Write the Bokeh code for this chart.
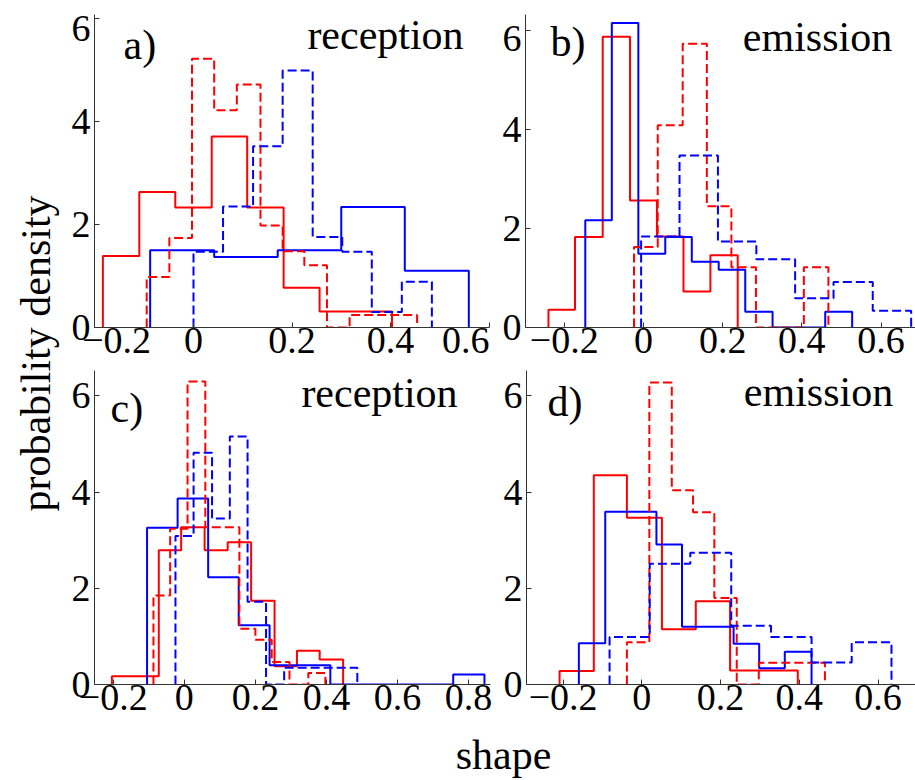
import math
from bokeh.plotting import figure
from bokeh.models import Range1d, FixedTicker, CustomJSTickFormatter, Label
from bokeh.layouts import row, column
from bokeh.embed import file_html
from bokeh.resources import INLINE

FONT = "Liberation Serif"
RED = "#ff0000"
BLUE = "#0000ff"
AXIS = "#333333"

# ---------------- data (bin edges and densities) ----------------
Y_TICKS = [0, 2, 4, 6]
# in panels a and b the top y label is pulled down inside the plot range (label anchors)
Y_LABEL_POS_A = [0, 2, 4, 5.81]
Y_LABEL_POS_B = [0, 2, 4, 5.85]
X_TICKS_A = [-0.2, 0, 0.2, 0.4, 0.6]
# in panel a the two end labels are pulled inside the plot range (label anchors)
X_LABEL_POS_A = [-0.156, 0, 0.2, 0.4, 0.553]
X_TICKS_B = [-0.2, 0, 0.2, 0.4, 0.6]
X_TICKS_C = [-0.2, 0, 0.2, 0.4, 0.6, 0.8]
X_TICKS_D = [-0.2, 0, 0.2, 0.4, 0.6]

# panel a) reception
A_RS_EDGES = [-0.184, -0.110, -0.037, 0.037, 0.109, 0.183, 0.256, 0.330, 0.403]
A_RS_H = [1.39, 2.63, 2.33, 3.71, 2.33, 0.77, 0.31, 0.31]
A_BS_EDGES = [-0.088, 0.042, 0.171, 0.300, 0.429, 0.559]
A_BS_H = [1.50, 1.37, 1.50, 2.34, 1.10]
A_RD_EDGES = [-0.095, -0.049, -0.003, 0.042, 0.088, 0.136, 0.181, 0.225, 0.271, 0.317, 0.363, 0.408, 0.454]
A_RD_H = [0.98, 1.74, 5.22, 4.22, 4.72, 1.98, 1.48, 1.21, 0.0, 0.245, 0.245, 0.245]
A_BD_EDGES = [0.0, 0.060, 0.121, 0.181, 0.242, 0.302, 0.362, 0.423, 0.484]
A_BD_H = [1.47, 2.35, 3.52, 4.99, 1.76, 1.47, 0.30, 0.89]

# panel b) emission
B_RS_EDGES = [-0.240, -0.173, -0.103, -0.034, 0.034, 0.101, 0.169, 0.238]
B_RS_H = [0.36, 1.83, 5.88, 2.57, 1.84, 0.73, 1.46]
B_BS_EDGES = [-0.147, -0.080, -0.013, 0.055, 0.122, 0.190, 0.257, 0.326, 0.393, 0.459, 0.527]
B_BS_H = [2.17, 6.16, 1.49, 1.83, 1.33, 1.17, 0.32, 0.0, 0.0, 0.32]
B_RD_EDGES = [-0.024, 0.036, 0.099, 0.160, 0.222, 0.284, 0.345, 0.405, 0.467]
B_RD_H = [1.63, 4.09, 5.74, 2.45, 1.22, 0.0, 0.0, 1.22]
B_BD_EDGES = [-0.006, 0.091, 0.188, 0.285, 0.383, 0.480, 0.579, 0.676]
B_BD_H = [1.84, 3.48, 1.74, 1.38, 0.59, 0.92, 0.34]

# panel c) reception
C_RS_EDGES = [-0.204, -0.138, -0.072, -0.009, 0.057, 0.122, 0.188, 0.254, 0.317, 0.381, 0.447]
C_RS_H = [0.17, 0.17, 2.79, 3.27, 2.79, 2.96, 1.74, 0.38, 0.70, 0.52]
C_BS_EDGES = [-0.105, -0.019, 0.067, 0.153, 0.240, 0.326, 0.411, 0.498, 0.584, 0.670, 0.757, 0.845]
C_BS_H = [3.26, 3.87, 2.23, 1.23, 0.40, 0.40, 0.0, 0.0, 0.0, 0.0, 0.21]
C_RD_EDGES = [-0.087, -0.040, 0.009, 0.059, 0.107, 0.155, 0.200, 0.246, 0.296, 0.349, 0.397]
C_RD_H = [1.85, 3.24, 6.30, 3.27, 3.27, 1.16, 0.93, 0.47, 0.0, 0.24]
C_BD_EDGES = [-0.025, 0.026, 0.078, 0.128, 0.178, 0.230, 0.281, 0.332, 0.383, 0.434, 0.487]
C_BD_H = [3.09, 4.82, 3.45, 5.16, 1.72, 0.0, 0.35, 0.35, 0.35, 0.35]

# panel d) emission
D_RS_EDGES = [-0.209, -0.122, -0.038, 0.051, 0.137, 0.224, 0.310, 0.396]
D_RS_H = [0.28, 4.35, 3.47, 1.15, 1.73, 0.29, 0.29]
D_BS_EDGES = [-0.160, -0.093, -0.028, 0.037, 0.102, 0.167, 0.233, 0.298, 0.363, 0.431]
D_BS_H = [0.86, 3.59, 3.59, 2.91, 1.20, 1.20, 0.85, 0.34, 0.68]
D_RD_EDGES = [-0.038, 0.019, 0.076, 0.130, 0.184, 0.241, 0.297, 0.353, 0.409, 0.465]
D_RD_H = [0.88, 6.28, 4.04, 3.58, 1.80, 0.0, 0.45, 0.45, 0.45]
D_BD_EDGES = [-0.082, 0.020, 0.123, 0.227, 0.328, 0.431, 0.533, 0.634]
D_BD_H = [0.99, 2.51, 2.74, 1.22, 0.99, 0.46, 0.88]

PANEL_TAGS = ["a)", "b)", "c)", "d)"]
PANEL_TITLES = ["reception", "emission", "reception", "emission"]
Y_LABEL = "probability density"
X_LABEL = "shape"

# ---------------- helpers ----------------
FMT_CODE = """
if (Math.abs(tick) < 1e-9) { return "0"; }
const s = Math.abs(tick).toFixed(1);
return (tick < 0 ? "\\u2212" : "") + s;
"""
FMT_CODE_A = """
if (tick < -0.1) { return "\\u22120.2"; }
if (tick > 0.5) { return "0.6"; }
if (Math.abs(tick) < 1e-9) { return "0"; }
const s = Math.abs(tick).toFixed(1);
return (tick < 0 ? "\\u2212" : "") + s;
"""
FMT_Y = """
return (2 * Math.round(tick / 2)).toFixed(0);
"""

TICK_FONT_SIZE = "38px"
TEXT_FONT_SIZE = "42px"


def outline(edges, heights):
    xs = [edges[0]]
    ys = [0.0]
    for i, h in enumerate(heights):
        xs += [edges[i], edges[i + 1]]
        ys += [h, h]
    xs.append(edges[-1])
    ys.append(0.0)
    return xs, ys


def make_panel(width, height, bl, br, bt, bb, xr, yr, xticks,
               fmt, xlabel_pos=None, ylabel_pos=None):
    p = figure(width=width, height=height, x_range=Range1d(*xr), y_range=Range1d(*yr),
               output_backend="svg", toolbar_location=None,
               min_border_left=bl, min_border_right=br, min_border_top=bt, min_border_bottom=bb)
    p.outline_line_color = None
    p.xgrid.visible = False
    p.ygrid.visible = False
    p.background_fill_color = "white"
    p.border_fill_color = "white"
    for ax in (p.xaxis[0], p.yaxis[0]):
        ax.axis_line_color = AXIS
        ax.axis_line_width = 1
        ax.major_tick_line_color = AXIS
        ax.minor_tick_line_color = AXIS
        ax.major_tick_in = 5
        ax.major_tick_out = 0
        ax.minor_tick_in = 0
        ax.minor_tick_out = 0
        ax.major_label_text_font = FONT
        ax.major_label_text_font_size = TICK_FONT_SIZE
        ax.major_label_text_color = "black"
    if xlabel_pos is None:
        p.xaxis[0].ticker = FixedTicker(ticks=xticks)
    else:
        # labels sit at xlabel_pos; the tick marks themselves are drawn at xticks
        p.xaxis[0].ticker = FixedTicker(ticks=xlabel_pos, minor_ticks=xticks)
        p.xaxis[0].major_tick_in = 0
        p.xaxis[0].minor_tick_in = 5
    if ylabel_pos is None:
        p.yaxis[0].ticker = FixedTicker(ticks=Y_TICKS)
    else:
        p.yaxis[0].ticker = FixedTicker(ticks=ylabel_pos, minor_ticks=Y_TICKS)
        p.yaxis[0].major_tick_in = 0
        p.yaxis[0].minor_tick_in = 5
    p.xaxis[0].formatter = CustomJSTickFormatter(code=fmt)
    p.yaxis[0].formatter = CustomJSTickFormatter(code=FMT_Y)
    p.xaxis[0].major_label_standoff = 0
    p.yaxis[0].major_label_standoff = 4
    return p


def draw_hist(p, edges, heights, color, dashed):
    xs, ys = outline(edges, heights)
    if dashed:
        p.line(xs, ys, line_color=color, line_width=2, line_dash="9 4")
    else:
        p.line(xs, ys, line_color=color, line_width=2)


# the rendered alphabetic baseline sits lower than the anchor; compensate
BASE_FIX = 16


def add_texts(p, tag, tx, ty, title, cx, cy):
    p.add_layout(Label(x=tx, y=ty + BASE_FIX, x_units="screen", y_units="screen", text=tag,
                       text_font=FONT, text_font_size=TEXT_FONT_SIZE, text_align="left",
                       text_baseline="alphabetic", text_color="black"))
    p.add_layout(Label(x=cx, y=cy + BASE_FIX, x_units="screen", y_units="screen", text=title,
                       text_font=FONT, text_font_size=TEXT_FONT_SIZE, text_align="center",
                       text_baseline="alphabetic", text_color="black"))


# ---------------- panels ----------------
# row 1: canvas y 0..370 ; row 2: canvas y 370..728 ; x label strip 728..780
pa = make_panel(431, 370, 28, 8, 12, 43, (-0.201, 0.601), (0, 6.08), X_TICKS_A, FMT_CODE_A,
                xlabel_pos=X_LABEL_POS_A, ylabel_pos=Y_LABEL_POS_A)
pb = make_panel(418, 370, 28, 0, 14, 43, (-0.298, 0.687), (0, 6.33), X_TICKS_B, FMT_CODE,
                ylabel_pos=Y_LABEL_POS_B)
pc = make_panel(431, 358, 28, 7, 0, 44, (-0.253, 0.862), (0, 6.53), X_TICKS_C, FMT_CODE)
pd = make_panel(418, 358, 29, 0, 0, 44, (-0.293, 0.695), (0, 6.53), X_TICKS_D, FMT_CODE)

for p, series in [
    (pa, [(A_RS_EDGES, A_RS_H, RED, False), (A_BS_EDGES, A_BS_H, BLUE, False),
          (A_RD_EDGES, A_RD_H, RED, True), (A_BD_EDGES, A_BD_H, BLUE, True)]),
    (pb, [(B_RS_EDGES, B_RS_H, RED, False), (B_BS_EDGES, B_BS_H, BLUE, False),
          (B_RD_EDGES, B_RD_H, RED, True), (B_BD_EDGES, B_BD_H, BLUE, True)]),
    (pc, [(C_RS_EDGES, C_RS_H, RED, False), (C_BS_EDGES, C_BS_H, BLUE, False),
          (C_RD_EDGES, C_RD_H, RED, True), (C_BD_EDGES, C_BD_H, BLUE, True)]),
    (pd, [(D_RS_EDGES, D_RS_H, RED, False), (D_BS_EDGES, D_BS_H, BLUE, False),
          (D_RD_EDGES, D_RD_H, RED, True), (D_BD_EDGES, D_BD_H, BLUE, True)]),
]:
    for e, h, c, d in series:
        draw_hist(p, e, h, c, d)

# positions in pixels from each frame's lower-left corner
add_texts(pa, PANEL_TAGS[0], 29, 267, PANEL_TITLES[0], 291, 277)
add_texts(pb, PANEL_TAGS[1], 25, 270, PANEL_TITLES[1], 292, 275)
add_texts(pc, PANEL_TAGS[2], 16, 261, PANEL_TITLES[2], 285, 276)
add_texts(pd, PANEL_TAGS[3], 21, 267, PANEL_TITLES[3], 292, 277)

# ---------------- shared axis labels ----------------
ylab = figure(width=66, height=728, x_range=Range1d(0, 66), y_range=Range1d(0, 728),
              x_axis_type=None, y_axis_type=None, output_backend="svg", toolbar_location=None,
              min_border=0)
ylab.outline_line_color = None
ylab.xgrid.visible = False
ylab.ygrid.visible = False
ylab.add_layout(Label(x=51 - BASE_FIX, y=375, x_units="screen", y_units="screen", text=Y_LABEL,
                      angle=math.pi / 2, text_font=FONT, text_font_size=TEXT_FONT_SIZE,
                      text_align="center", text_baseline="alphabetic", text_color="black"))

xlab = figure(width=915, height=52, x_range=Range1d(0, 915), y_range=Range1d(0, 52),
              x_axis_type=None, y_axis_type=None, output_backend="svg", toolbar_location=None,
              min_border=0)
xlab.outline_line_color = None
xlab.xgrid.visible = False
xlab.ygrid.visible = False
xlab.add_layout(Label(x=503, y=10 + BASE_FIX, x_units="screen", y_units="screen", text=X_LABEL,
                      text_font=FONT, text_font_size=TEXT_FONT_SIZE, text_align="center",
                      text_baseline="alphabetic", text_color="black"))

layout = column(row(ylab, column(row(pa, pb), row(pc, pd))), xlab)

with open("out.html", "w") as f:
    f.write(file_html(layout, INLINE))
